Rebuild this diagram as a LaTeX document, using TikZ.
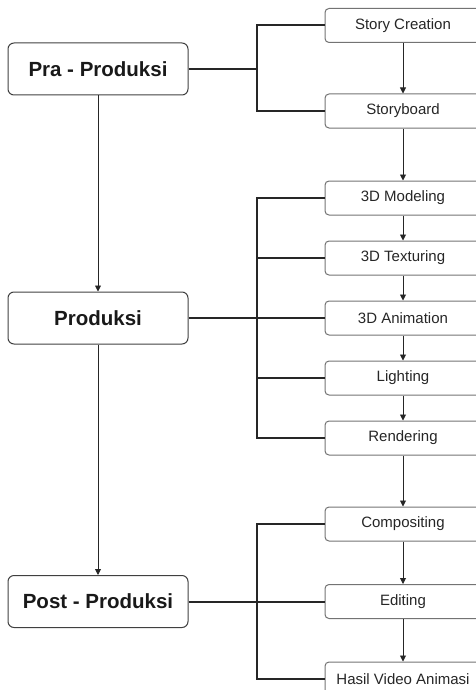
\documentclass[tikz,border=0pt]{standalone}
\usepackage{fontspec}
\setmainfont{Liberation Sans}
\usetikzlibrary{arrows.meta}
\tikzset{
  phase/.style={draw=black!75, line width=1pt, rounded corners=6pt, minimum width=180pt, minimum height=52pt, inner sep=0pt, text=black!90, font=\fontsize{20.5}{24}\selectfont\bfseries},
  task/.style={draw=black!55, line width=1pt, rounded corners=4pt, minimum width=156pt, minimum height=34pt, inner sep=0pt, text=black!85, font=\fontsize{15}{18}\selectfont},
  flow/.style={draw=black!85, line width=0.9pt, -{Triangle[width=6pt,length=6pt]}},
  bracket/.style={draw=black!85, line width=2pt}
}
\begin{document}
\begin{tikzpicture}[x=1pt,y=-1pt]
\useasboundingbox (0,0) rectangle (476,690);
\clip (0,0) rectangle (476,690);
% left phases
\node[phase] (pra) at (98,69) {Pra - Produksi};
\node[phase] (pro) at (98,318) {Produksi};
\node[phase] (post) at (98,601.5) {Post - Produksi};
% right tasks
\node[task] (sc) at (403,25.5) {Story Creation};
\node[task] (sb) at (403,111) {Storyboard};
\node[task] (mod) at (403,198) {3D Modeling};
\node[task] (tex) at (403,258) {3D Texturing};
\node[task] (ani) at (403,318) {3D Animation};
\node[task] (lig) at (403,378) {Lighting};
\node[task] (ren) at (403,438) {Rendering};
\node[task] (com) at (403,524) {Compositing};
\node[task] (edi) at (403,601.5) {Editing};
\node[task] (has) at (403,679) {Hasil Video Animasi};
% junctions
\coordinate (j1) at (257,69);
\coordinate (j2) at (257,318);
\coordinate (j3) at (257,601.5);
% brackets
\draw[bracket] (pra.east) -- (j1);
\draw[bracket] (j1) |- (sc.west);
\draw[bracket] (j1) |- (sb.west);
\draw[bracket] (pro.east) -- (j2);
\draw[bracket] (j2) |- (mod.west);
\draw[bracket] (j2) |- (tex.west);
\draw[bracket] (j2) -- (ani.west);
\draw[bracket] (j2) |- (lig.west);
\draw[bracket] (j2) |- (ren.west);
\draw[bracket] (post.east) -- (j3);
\draw[bracket] (j3) |- (com.west);
\draw[bracket] (j3) -- (edi.west);
\draw[bracket] (j3) |- (has.west);
% flow arrows
\draw[flow] (pra.south) -- (pro.north);
\draw[flow] (pro.south) -- (post.north);
\draw[flow] (sc.south) -- (sb.north);
\draw[flow] (sb.south) -- (mod.north);
\draw[flow] (mod.south) -- (tex.north);
\draw[flow] (tex.south) -- (ani.north);
\draw[flow] (ani.south) -- (lig.north);
\draw[flow] (lig.south) -- (ren.north);
\draw[flow] (ren.south) -- (com.north);
\draw[flow] (com.south) -- (edi.north);
\draw[flow] (edi.south) -- (has.north);
\end{tikzpicture}
\end{document}
